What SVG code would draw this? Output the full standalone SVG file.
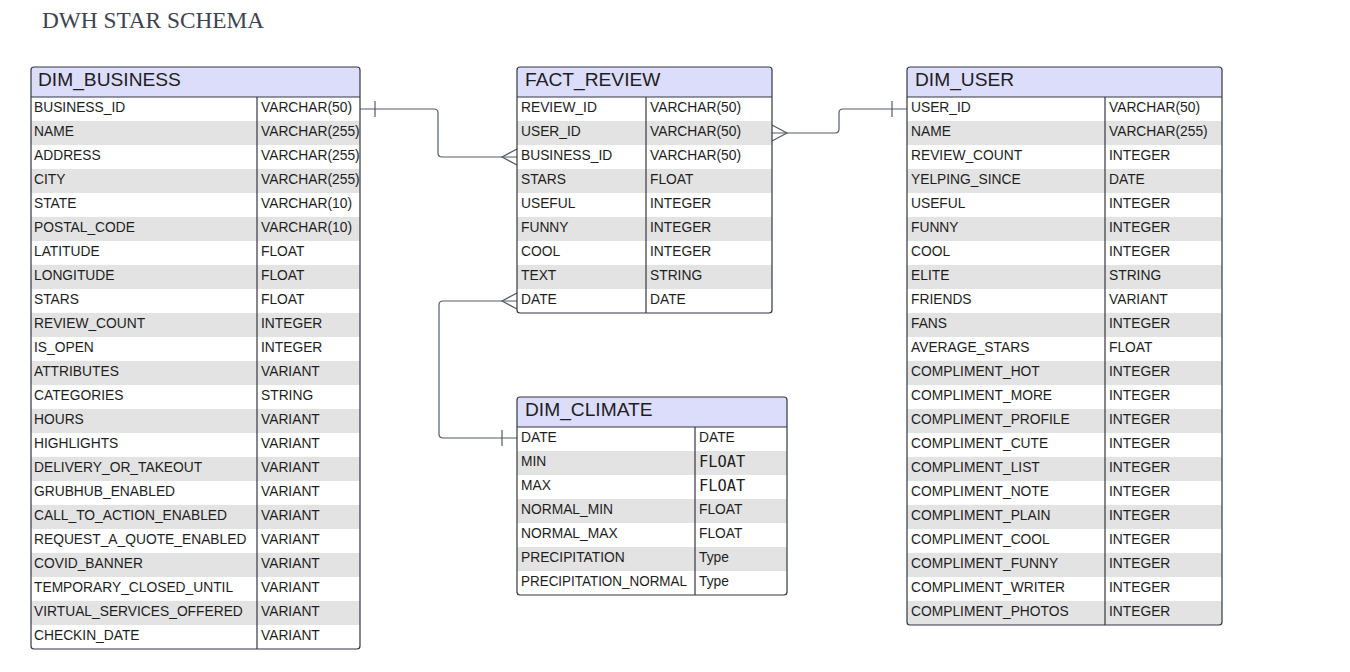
<svg xmlns="http://www.w3.org/2000/svg" width="1350" height="672" viewBox="0 0 1350 672">
<style>
.bg{fill:#ffffff}
.hd{fill:#dcdcfb}
.st{fill:#e3e3e3}
.frame{fill:none;stroke:#333740;stroke-width:1.2}
.ln{stroke:#333740;stroke-width:1.2}
.ht{font-family:"Liberation Sans",Arial,sans-serif;font-size:19.2px;fill:#1e1e1e}
.t{font-family:"Liberation Sans",Arial,sans-serif;font-size:13.8px;fill:#1e1e1e}
.m{font-family:"DejaVu Sans Mono",monospace;font-size:15.4px;fill:#1e1e1e}
.title{font-family:"Liberation Serif","Times New Roman",serif;font-size:23.3px;fill:#3d4350}
.c{fill:none;stroke:#555a64;stroke-width:1.2}
</style>
<rect width="1350" height="672" fill="#ffffff"/>
<text class="title" x="42" y="28">DWH STAR SCHEMA</text>

<g id="connectors">
<path class="c" d="M360,109 H434 Q438,109 438,113 V153 Q438,157 442,157 H517"/>
<line class="c" x1="375" y1="101" x2="375" y2="117"/>
<path class="c" d="M517,149 L502,157 L517,165"/>
<path class="c" d="M772,133 H835 Q839,133 839,129 V113 Q839,109 843,109 H907"/>
<path class="c" d="M772,125 L787,133 L772,141"/>
<line class="c" x1="892" y1="101" x2="892" y2="117"/>
<path class="c" d="M517,301 H443 Q439,301 439,305 V434 Q439,438 443,438 H517"/>
<path class="c" d="M517,293 L502,301 L517,309"/>
<line class="c" x1="502" y1="430" x2="502" y2="446"/>
</g>

<g id="dim_business">
<rect class="bg" x="31" y="67" width="329" height="582" rx="3"/>
<path class="hd" d="M31,97 V70 Q31,67 34,67 H357 Q360,67 360,70 V97 Z"/>
<rect class="st" x="31" y="121" width="329" height="24"/>
<rect class="st" x="31" y="169" width="329" height="24"/>
<rect class="st" x="31" y="217" width="329" height="24"/>
<rect class="st" x="31" y="265" width="329" height="24"/>
<rect class="st" x="31" y="313" width="329" height="24"/>
<rect class="st" x="31" y="361" width="329" height="24"/>
<rect class="st" x="31" y="409" width="329" height="24"/>
<rect class="st" x="31" y="457" width="329" height="24"/>
<rect class="st" x="31" y="505" width="329" height="24"/>
<rect class="st" x="31" y="553" width="329" height="24"/>
<rect class="st" x="31" y="601" width="329" height="24"/>
<line class="ln" x1="31" y1="97" x2="360" y2="97"/>
<line class="ln" x1="257" y1="97" x2="257" y2="649"/>
<rect class="frame" x="31" y="67" width="329" height="582" rx="3"/>
<text class="ht" x="38" y="86">DIM_BUSINESS</text>
<text class="t" x="34" y="112">BUSINESS_ID</text><text class="t" x="261" y="112">VARCHAR(50)</text>
<text class="t" x="34" y="136">NAME</text><text class="t" x="261" y="136">VARCHAR(255)</text>
<text class="t" x="34" y="160">ADDRESS</text><text class="t" x="261" y="160">VARCHAR(255)</text>
<text class="t" x="34" y="184">CITY</text><text class="t" x="261" y="184">VARCHAR(255)</text>
<text class="t" x="34" y="208">STATE</text><text class="t" x="261" y="208">VARCHAR(10)</text>
<text class="t" x="34" y="232">POSTAL_CODE</text><text class="t" x="261" y="232">VARCHAR(10)</text>
<text class="t" x="34" y="256">LATITUDE</text><text class="t" x="261" y="256">FLOAT</text>
<text class="t" x="34" y="280">LONGITUDE</text><text class="t" x="261" y="280">FLOAT</text>
<text class="t" x="34" y="304">STARS</text><text class="t" x="261" y="304">FLOAT</text>
<text class="t" x="34" y="328">REVIEW_COUNT</text><text class="t" x="261" y="328">INTEGER</text>
<text class="t" x="34" y="352">IS_OPEN</text><text class="t" x="261" y="352">INTEGER</text>
<text class="t" x="34" y="376">ATTRIBUTES</text><text class="t" x="261" y="376">VARIANT</text>
<text class="t" x="34" y="400">CATEGORIES</text><text class="t" x="261" y="400">STRING</text>
<text class="t" x="34" y="424">HOURS</text><text class="t" x="261" y="424">VARIANT</text>
<text class="t" x="34" y="448">HIGHLIGHTS</text><text class="t" x="261" y="448">VARIANT</text>
<text class="t" x="34" y="472">DELIVERY_OR_TAKEOUT</text><text class="t" x="261" y="472">VARIANT</text>
<text class="t" x="34" y="496">GRUBHUB_ENABLED</text><text class="t" x="261" y="496">VARIANT</text>
<text class="t" x="34" y="520">CALL_TO_ACTION_ENABLED</text><text class="t" x="261" y="520">VARIANT</text>
<text class="t" x="34" y="544">REQUEST_A_QUOTE_ENABLED</text><text class="t" x="261" y="544">VARIANT</text>
<text class="t" x="34" y="568">COVID_BANNER</text><text class="t" x="261" y="568">VARIANT</text>
<text class="t" x="34" y="592">TEMPORARY_CLOSED_UNTIL</text><text class="t" x="261" y="592">VARIANT</text>
<text class="t" x="34" y="616">VIRTUAL_SERVICES_OFFERED</text><text class="t" x="261" y="616">VARIANT</text>
<text class="t" x="34" y="640">CHECKIN_DATE</text><text class="t" x="261" y="640">VARIANT</text>
</g>

<g id="fact_review">
<rect class="bg" x="517" y="67" width="255" height="246" rx="3"/>
<path class="hd" d="M517,97 V70 Q517,67 520,67 H769 Q772,67 772,70 V97 Z"/>
<rect class="st" x="517" y="121" width="255" height="24"/>
<rect class="st" x="517" y="169" width="255" height="24"/>
<rect class="st" x="517" y="217" width="255" height="24"/>
<rect class="st" x="517" y="265" width="255" height="24"/>
<line class="ln" x1="517" y1="97" x2="772" y2="97"/>
<line class="ln" x1="646" y1="97" x2="646" y2="313"/>
<rect class="frame" x="517" y="67" width="255" height="246" rx="3"/>
<text class="ht" x="525" y="86">FACT_REVIEW</text>
<text class="t" x="521" y="112">REVIEW_ID</text><text class="t" x="650" y="112">VARCHAR(50)</text>
<text class="t" x="521" y="136">USER_ID</text><text class="t" x="650" y="136">VARCHAR(50)</text>
<text class="t" x="521" y="160">BUSINESS_ID</text><text class="t" x="650" y="160">VARCHAR(50)</text>
<text class="t" x="521" y="184">STARS</text><text class="t" x="650" y="184">FLOAT</text>
<text class="t" x="521" y="208">USEFUL</text><text class="t" x="650" y="208">INTEGER</text>
<text class="t" x="521" y="232">FUNNY</text><text class="t" x="650" y="232">INTEGER</text>
<text class="t" x="521" y="256">COOL</text><text class="t" x="650" y="256">INTEGER</text>
<text class="t" x="521" y="280">TEXT</text><text class="t" x="650" y="280">STRING</text>
<text class="t" x="521" y="304">DATE</text><text class="t" x="650" y="304">DATE</text>
</g>

<g id="dim_climate">
<rect class="bg" x="517" y="397" width="270" height="198" rx="3"/>
<path class="hd" d="M517,427 V400 Q517,397 520,397 H784 Q787,397 787,400 V427 Z"/>
<rect class="st" x="517" y="451" width="270" height="24"/>
<rect class="st" x="517" y="499" width="270" height="24"/>
<rect class="st" x="517" y="547" width="270" height="24"/>
<line class="ln" x1="517" y1="427" x2="787" y2="427"/>
<line class="ln" x1="695" y1="427" x2="695" y2="595"/>
<rect class="frame" x="517" y="397" width="270" height="198" rx="3"/>
<text class="ht" x="525" y="416">DIM_CLIMATE</text>
<text class="t" x="521" y="442">DATE</text><text class="t" x="699" y="442">DATE</text>
<text class="t" x="521" y="466">MIN</text><text class="m" x="699" y="467">FLOAT</text>
<text class="t" x="521" y="490">MAX</text><text class="m" x="699" y="491">FLOAT</text>
<text class="t" x="521" y="514">NORMAL_MIN</text><text class="t" x="699" y="514">FLOAT</text>
<text class="t" x="521" y="538">NORMAL_MAX</text><text class="t" x="699" y="538">FLOAT</text>
<text class="t" x="521" y="562">PRECIPITATION</text><text class="t" x="699" y="562">Type</text>
<text class="t" x="521" y="586" textLength="166" lengthAdjust="spacingAndGlyphs">PRECIPITATION_NORMAL</text><text class="t" x="699" y="586">Type</text>
</g>

<g id="dim_user">
<rect class="bg" x="907" y="67" width="315" height="558" rx="3"/>
<path class="hd" d="M907,97 V70 Q907,67 910,67 H1219 Q1222,67 1222,70 V97 Z"/>
<rect class="st" x="907" y="121" width="315" height="24"/>
<rect class="st" x="907" y="169" width="315" height="24"/>
<rect class="st" x="907" y="217" width="315" height="24"/>
<rect class="st" x="907" y="265" width="315" height="24"/>
<rect class="st" x="907" y="313" width="315" height="24"/>
<rect class="st" x="907" y="361" width="315" height="24"/>
<rect class="st" x="907" y="409" width="315" height="24"/>
<rect class="st" x="907" y="457" width="315" height="24"/>
<rect class="st" x="907" y="505" width="315" height="24"/>
<rect class="st" x="907" y="553" width="315" height="24"/>
<path class="st" d="M907,601 H1222 V622 Q1222,625 1219,625 H910 Q907,625 907,622 Z"/>
<line class="ln" x1="907" y1="97" x2="1222" y2="97"/>
<line class="ln" x1="1105" y1="97" x2="1105" y2="625"/>
<rect class="frame" x="907" y="67" width="315" height="558" rx="3"/>
<text class="ht" x="915" y="86">DIM_USER</text>
<text class="t" x="911" y="112">USER_ID</text><text class="t" x="1109" y="112">VARCHAR(50)</text>
<text class="t" x="911" y="136">NAME</text><text class="t" x="1109" y="136">VARCHAR(255)</text>
<text class="t" x="911" y="160">REVIEW_COUNT</text><text class="t" x="1109" y="160">INTEGER</text>
<text class="t" x="911" y="184">YELPING_SINCE</text><text class="t" x="1109" y="184">DATE</text>
<text class="t" x="911" y="208">USEFUL</text><text class="t" x="1109" y="208">INTEGER</text>
<text class="t" x="911" y="232">FUNNY</text><text class="t" x="1109" y="232">INTEGER</text>
<text class="t" x="911" y="256">COOL</text><text class="t" x="1109" y="256">INTEGER</text>
<text class="t" x="911" y="280">ELITE</text><text class="t" x="1109" y="280">STRING</text>
<text class="t" x="911" y="304">FRIENDS</text><text class="t" x="1109" y="304">VARIANT</text>
<text class="t" x="911" y="328">FANS</text><text class="t" x="1109" y="328">INTEGER</text>
<text class="t" x="911" y="352">AVERAGE_STARS</text><text class="t" x="1109" y="352">FLOAT</text>
<text class="t" x="911" y="376">COMPLIMENT_HOT</text><text class="t" x="1109" y="376">INTEGER</text>
<text class="t" x="911" y="400">COMPLIMENT_MORE</text><text class="t" x="1109" y="400">INTEGER</text>
<text class="t" x="911" y="424">COMPLIMENT_PROFILE</text><text class="t" x="1109" y="424">INTEGER</text>
<text class="t" x="911" y="448">COMPLIMENT_CUTE</text><text class="t" x="1109" y="448">INTEGER</text>
<text class="t" x="911" y="472">COMPLIMENT_LIST</text><text class="t" x="1109" y="472">INTEGER</text>
<text class="t" x="911" y="496">COMPLIMENT_NOTE</text><text class="t" x="1109" y="496">INTEGER</text>
<text class="t" x="911" y="520">COMPLIMENT_PLAIN</text><text class="t" x="1109" y="520">INTEGER</text>
<text class="t" x="911" y="544">COMPLIMENT_COOL</text><text class="t" x="1109" y="544">INTEGER</text>
<text class="t" x="911" y="568">COMPLIMENT_FUNNY</text><text class="t" x="1109" y="568">INTEGER</text>
<text class="t" x="911" y="592">COMPLIMENT_WRITER</text><text class="t" x="1109" y="592">INTEGER</text>
<text class="t" x="911" y="616">COMPLIMENT_PHOTOS</text><text class="t" x="1109" y="616">INTEGER</text>
</g>
</svg>
